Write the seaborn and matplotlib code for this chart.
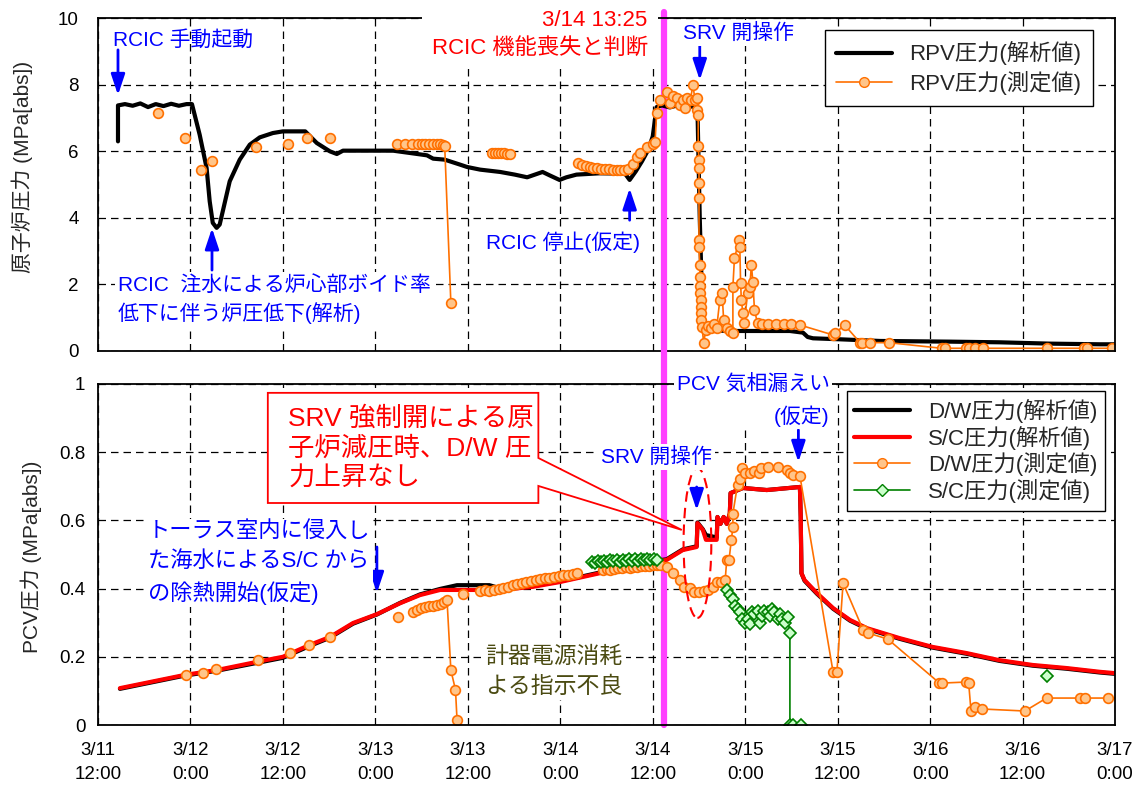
import numpy as np
import pandas as pd
import seaborn as sns
import matplotlib.pyplot as plt
from matplotlib.lines import Line2D
from matplotlib.patches import Ellipse, Polygon

nan = np.nan

# --------------------------------------------------
# data  (time axis = hours counted from 3/11 12:00)
# --------------------------------------------------

tick_hours = list(range(0, 133, 12))
tick_labels = ["3/11\n12:00", "3/12\n0:00", "3/12\n12:00", "3/13\n0:00",
               "3/13\n12:00", "3/14\n0:00", "3/14\n12:00", "3/15\n0:00",
               "3/15\n12:00", "3/16\n0:00", "3/16\n12:00", "3/17\n0:00"]
event_hour = 73.42   # 3/14 13:25

# RPV pressure, analysis
rpv_calc_h = [2.6, 2.6, 3.5, 4.5, 5.5, 6.5, 7.5, 8.5, 9.5, 10.5, 11.5, 12.2,
              13.2, 14.1, 14.5, 14.9, 15.4, 15.8, 16.5, 17.1, 18.4, 19.7, 21.0,
              22.7, 24.0, 26.9, 28.4, 30.1, 31.0, 31.8, 38.3, 40.5, 42.7, 43.5,
              45.0, 47.0, 47.9, 49.6, 52.2, 54.1, 55.7, 56.7, 57.7, 58.6, 59.9,
              60.8, 62.1, 65.1, 68.4, 69.0, 69.8, 70.6, 71.4, 72.0, 72.5, 73.2,
              74.2, 75.2, 76.1, 77.0, 77.8, 78.1, 78.4, 78.6, 79.4, 82.0, 85.9,
              89.8, 91.5, 92.1, 92.8, 96.3, 101.5, 110.5, 117.0, 123.5, 130.0, 132.0]
rpv_calc_p = [6.3, 7.38, 7.42, 7.37, 7.44, 7.33, 7.42, 7.36, 7.43, 7.37, 7.42, 7.42,
              6.5, 5.5, 4.5, 3.85, 3.7, 3.8, 4.5, 5.1, 5.75, 6.2, 6.42,
              6.55, 6.6, 6.6, 6.25, 6.0, 5.92, 6.02, 6.02, 5.95, 5.88, 5.78,
              5.75, 5.6, 5.53, 5.45, 5.38, 5.3, 5.22, 5.3, 5.38, 5.28, 5.14,
              5.22, 5.3, 5.34, 5.33, 5.14, 5.4, 5.7, 6.04, 6.45, 7.33, 7.38,
              7.32, 7.38, 7.3, 7.35, 7.3, 4.0, 1.5, 0.7, 0.62, 0.6, 0.6,
              0.6, 0.55, 0.42, 0.38, 0.35, 0.3, 0.28, 0.26, 0.22, 0.2, 0.2]

# RPV pressure, measured (nan = gap in the record)
rpv_meas_h = [7.8, nan, 11.3, nan, 13.4, nan, 14.8, nan, 20.5, nan, 24.6, nan,
              27.1, nan, 30.1, nan,
              38.8, 39.8, 40.8, 41.5, 42.0, 42.5, 43.0, 43.5, 44.0, 44.4, 44.8,
              45.0, 45.8, nan,
              51.1, 51.5, 51.9, 52.3, 52.7, 53.1, 53.5, nan,
              62.3, 62.8, 63.3, 63.8, 64.3, 64.8, 65.3, 65.8, 66.3, 66.8, 67.3,
              67.8, 68.3, 68.8, 69.4, 69.9, 70.3, 71.2, 72.0, 72.3, 72.5, 72.9,
              73.8, 74.2, 74.6, 75.1, 75.5, 75.9, 76.2, 76.5, 76.9, 77.2, 77.5,
              77.7, 77.8, 77.9, 77.9, 78.0, 78.0, 78.0, 78.0, 78.0, 78.0, 78.1,
              78.1, 78.1, 78.1, 78.2, 78.2, 78.3, 78.3, 78.4, 78.6, 78.9, 79.2,
              79.5, 79.9, 80.3, 80.7, 81.0, 81.2, 81.6, 82.0, 82.4, 82.4, 82.6,
              83.2, 83.3, 83.4, 83.5, 83.7, 83.9, 84.3, 84.6, 84.8, 85.0, 85.2,
              85.6, 86.2, 87.0, 88.0, 89.0, 90.0, 91.1, 95.4, 95.7, 96.9, 98.9,
              99.2, 100.2, 102.6, 109.5, 109.9, 112.7, 113.1, 113.8, 114.8,
              123.2, 128.0, 128.4, 131.6]
rpv_meas_p = [7.14, nan, 6.4, nan, 5.44, nan, 5.72, nan, 6.14, nan, 6.23, nan,
              6.41, nan, 6.41, nan,
              6.22, 6.22, 6.22, 6.22, 6.22, 6.22, 6.22, 6.22, 6.21, 6.21, 6.2,
              6.16, 1.44, nan,
              5.96, 5.95, 5.95, 5.94, 5.94, 5.93, 5.93, nan,
              5.64, 5.58, 5.55, 5.52, 5.5, 5.5, 5.48, 5.47, 5.46, 5.45, 5.45,
              5.44, 5.45, 5.48, 5.62, 5.83, 5.95, 6.14, 6.23, 6.28, 7.14, 7.54,
              7.78, 7.44, 7.65, 7.6, 7.4, 7.55, 7.3, 7.6, 7.55, 7.99, 7.54,
              7.24, 7.6, 7.09, 6.16, 5.74, 5.49, 5.04, 4.59, 3.33, 3.13, 2.58,
              2.22, 1.94, 1.74, 1.53, 1.33, 1.13, 0.93, 0.72, 0.25, 0.63, 0.75,
              0.68, 0.8, 0.7, 1.53, 1.74, 0.93, 0.7, 0.6, 0.53, 1.93, 2.78,
              3.33, 3.13, 2.04, 1.53, 1.13, 0.83, 1.74, 1.93, 2.58, 2.07, 1.23,
              0.83, 0.82, 0.8, 0.8, 0.8, 0.8, 0.78, 0.48, 0.54, 0.78, 0.25,
              0.25, 0.25, 0.25, 0.08, 0.08, 0.08, 0.08, 0.08, 0.08,
              0.08, 0.08, 0.08, 0.08]

# D/W and S/C pressure, analysis
sc_calc_h = [2.85, 11.3, 15.4, 20.6, 24.0, 27.5, 30.1, 33.1, 36.2, 39.2, 41.8,
             44.4, 47.9, 52.2, 56.4, 59.9, 65.1, 69.4, 73.8, 75.9, 77.7, 77.8,
             78.5, 78.9, 80.3, 80.4, 80.8, 81.2, 81.6, 82.0, 82.1, 83.7, 86.8,
             91.1, 91.2, 91.3, 91.7, 93.3, 95.4, 97.6, 99.8, 104.0, 108.3,
             112.7, 117.0, 121.3, 125.7, 130.0, 132.0]
sc_calc_p = [0.108, 0.147, 0.161, 0.185, 0.2, 0.235, 0.258, 0.299, 0.325, 0.357,
             0.381, 0.396, 0.396, 0.396, 0.405, 0.419, 0.445, 0.47, 0.484, 0.513,
             0.522, 0.592, 0.572, 0.543, 0.543, 0.61, 0.59, 0.61, 0.59, 0.62,
             0.68, 0.695, 0.689, 0.698, 0.61, 0.445, 0.425, 0.387, 0.343, 0.308,
             0.284, 0.255, 0.229, 0.211, 0.19, 0.176, 0.167, 0.156, 0.152]
dw_calc_h = [2.85, 11.3, 15.4, 20.6, 24.0, 27.5, 30.1, 33.1, 36.2, 39.2, 41.8,
             44.4, 46.6, 50.8, 52.5, 56.4, 59.9, 65.1, 69.4, 73.8, 75.9, 77.7,
             77.8, 78.5, 78.9, 80.3, 80.4, 80.8, 81.2, 81.6, 82.0, 82.1, 83.7,
             86.8, 91.1, 91.2, 91.3, 91.7, 93.3, 95.4, 97.6, 99.8, 104.0, 108.3,
             112.7, 117.0, 121.3, 125.7, 130.0, 132.0]
dw_calc_p = [0.106, 0.145, 0.159, 0.182, 0.197, 0.232, 0.256, 0.297, 0.324, 0.358,
             0.383, 0.399, 0.41, 0.41, 0.399, 0.407, 0.421, 0.447, 0.472, 0.486,
             0.515, 0.524, 0.594, 0.574, 0.557, 0.55, 0.61, 0.59, 0.61, 0.59,
             0.62, 0.68, 0.695, 0.689, 0.698, 0.61, 0.445, 0.423, 0.385, 0.341,
             0.306, 0.282, 0.253, 0.227, 0.209, 0.188, 0.174, 0.165, 0.154, 0.15]

# D/W pressure, measured
dw_meas_h = [11.4, nan, 13.6, nan, 15.3, nan, 20.8, nan, 24.9, nan, 27.4, nan,
             30.1, nan, 38.9, nan,
             40.9, 41.4, 41.9, 42.4, 42.9, 43.5, 44.0, 44.5, 44.9, 45.3, 45.8,
             46.4, 46.6, nan, 47.4, nan,
             49.6, 50.2, 50.8, 51.4, 52.0, 52.6, 53.2, 53.8, 54.4, 55.0, 55.6,
             56.2, 56.8, 57.4, 58.0, 58.6, 59.2, 59.8, 60.4, 61.0, 61.6, 62.2, nan,
             65.5, 66.0, 66.5, 67.0, 67.5, 68.0, 68.5, 69.0, 69.5, 70.0, 70.5,
             71.0, 71.5, 72.0, 72.5, 73.0, 73.8, 74.6, 75.5, 76.0, 76.8, 77.4,
             78.0, 78.6, 79.2, 79.8, 80.3, 80.9, 81.4, 81.6, 81.9, 82.2, 82.4,
             82.4, 83.0, 83.3, 83.6, 84.0, 84.6, 85.2, 85.8, 86.1, 87.0, 88.3,
             89.4, 89.8, 90.2, 91.1, 95.4, 95.9, 96.7, 99.3, 99.9, 102.5, 109.2,
             109.6, 112.7, 113.0, 113.3, 113.8, 114.7, 120.3, 123.1, 127.5,
             128.1, 131.1, 133.0]
dw_meas_p = [0.147, nan, 0.152, nan, 0.164, nan, 0.19, nan, 0.211, nan, 0.235, nan,
             0.258, nan, 0.317, nan,
             0.331, 0.338, 0.343, 0.346, 0.348, 0.35, 0.352, 0.355, 0.36, 0.367,
             0.161, 0.103, 0.015, nan, 0.384, nan,
             0.392, 0.395, 0.393, 0.397, 0.398, 0.402, 0.405, 0.41, 0.412, 0.415,
             0.42, 0.422, 0.425, 0.428, 0.43, 0.432, 0.435, 0.437, 0.44, 0.44,
             0.443, 0.445, nan,
             0.455, 0.457, 0.455, 0.458, 0.46, 0.46, 0.462, 0.46, 0.463, 0.462,
             0.465, 0.465, 0.466, 0.468, 0.47, 0.47, 0.464, 0.445, 0.425, 0.405,
             0.402, 0.39, 0.39, 0.393, 0.395, 0.405, 0.419, 0.42, 0.425, 0.484,
             0.484, 0.543, 0.58, 0.62, 0.704, 0.72, 0.754, 0.74, 0.74, 0.745,
             0.74, 0.754, 0.757, 0.757, 0.748, 0.74, 0.733, 0.73, 0.156, 0.156,
             0.416, 0.279, 0.27, 0.252, 0.123, 0.123, 0.126, 0.123, 0.041, 0.053,
             0.047, 0.041, 0.079, 0.079, 0.079, 0.079, 0.079]

# S/C pressure, measured
sc_meas_h = [64.1, 64.5, 64.9, 65.3, 65.7, 66.1, 66.5, 66.9, 67.3, 67.7, 68.1,
             68.5, 68.9, 69.3, 69.7, 70.1, 70.5, 70.9, 71.3, 71.7, 72.1, 72.6, nan,
             81.7, 82.0, 82.4, 82.7, 83.0, 83.3, 83.6, 84.0, 84.3, 84.6, 84.9,
             85.2, 85.6, 85.9, 86.2, 86.5, 86.9, 87.2, 87.5, 87.8, 88.2, 88.5,
             88.8, 89.2, 89.5, 89.8, 89.8, 90.2, 91.2, nan, 123.1]
sc_meas_p = [0.478, 0.475, 0.48, 0.477, 0.482, 0.478, 0.483, 0.48, 0.484, 0.479,
             0.485, 0.48, 0.486, 0.481, 0.487, 0.482, 0.488, 0.483, 0.487, 0.484,
             0.488, 0.485, nan,
             0.396, 0.38, 0.37, 0.35, 0.34, 0.33, 0.31, 0.3, 0.31, 0.295, 0.33,
             0.325, 0.335, 0.3, 0.32, 0.335, 0.33, 0.32, 0.34, 0.33, 0.31, 0.325,
             0.31, 0.3, 0.317, 0.27, 0.0, 0.0, 0.0, nan, 0.144]

ORANGE = "#FF7000"
PEACH = "#FFC58A"
GREEN = "#008000"
MINT = "#CCFFCC"
MAGENTA = "#FF40FF"
BLUE = "#0000FF"
RED = "#FF0000"
OLIVE = "#4B4B12"


def to_frame(h, p):
    df = pd.DataFrame({"h": h, "p": p})
    df["seg"] = df["p"].isna().cumsum()
    return df.dropna()


# --------------------------------------------------
# figure
# --------------------------------------------------

sns.set_theme(style="white")
plt.rcParams["font.family"] = ["Liberation Sans", "Noto Sans CJK JP", "DejaVu Sans"]

fig = plt.figure(figsize=(11.39, 7.94), dpi=100)
ax1 = fig.add_axes([0.086, 0.558, 0.893, 0.419])
ax2 = fig.add_axes([0.086, 0.0869, 0.893, 0.4295])

for ax in (ax1, ax2):
    ax.set_xlim(0, 132)
    ax.set_xticks(tick_hours)
    ax.grid(True, color="black", linestyle=(0, (6, 4)), linewidth=0.9)
    for s in ax.spines.values():
        s.set_color("black")
        s.set_linewidth(1.3)
    ax.tick_params(length=0, labelsize=13.5, colors="black")
    ax.axvline(event_hour, ymin=0, ymax=1.1 if ax is ax2 else 1.018,
               color=MAGENTA, lw=4.5, zorder=1.8, clip_on=False)

meas_kw = dict(estimator=None, sort=False, errorbar=None, legend=False)

# ---- top: RPV pressure
sns.lineplot(x=rpv_calc_h, y=rpv_calc_p, color="black", lw=3, ax=ax1,
             **meas_kw)
sns.lineplot(data=to_frame(rpv_meas_h, rpv_meas_p), x="h", y="p", units="seg",
             color=ORANGE, lw=1.2, marker="o", markersize=7,
             markerfacecolor=PEACH, markeredgecolor=ORANGE, markeredgewidth=1.2,
             ax=ax1, **meas_kw)

ax1.set_ylim(0, 10)
ax1.set_yticks(range(0, 11, 2))
ax1.tick_params(axis="x", labelbottom=False)
ax1.tick_params(axis="y", pad=14)
ax1.set_xlabel("")
ax1.set_ylabel("原子炉圧力 (MPa[abs])", fontsize=15)
ax1.yaxis.set_label_coords(-0.064, 0.553)

top_handles = [
    Line2D([], [], color="black", lw=3, label="RPV圧力(解析値)"),
    Line2D([], [], color=ORANGE, lw=1.2, marker="o", ms=7, mfc=PEACH,
           mec=ORANGE, label="RPV圧力(測定値)"),
]
leg = ax1.legend(handles=top_handles, loc="upper right",
                 bbox_to_anchor=(0.978, 0.964), borderaxespad=0, fontsize=16,
                 frameon=True, fancybox=False, framealpha=1, edgecolor="black",
                 handlelength=2.5, labelspacing=0.25, borderpad=0.5)
leg.get_frame().set_linewidth(1.0)

box = dict(facecolor="white", edgecolor="none", pad=2)
arrow = dict(arrowstyle="-|>,head_length=0.9,head_width=0.3", color=BLUE,
             lw=2, mutation_scale=14, shrinkA=0, shrinkB=0)

ax1.text(1.95, 9.34, "RCIC 手動起動", color=BLUE, fontsize=15, va="center")
ax1.annotate("", xy=(2.6, 7.69), xytext=(2.6, 9.05), arrowprops=arrow)

ax1.text(2.6, 1.55, "RCIC  注水による炉心部ボイド率\n低下に伴う炉圧低下(解析)",
         color=BLUE, fontsize=15, va="center", linespacing=1.4, bbox=box,
         zorder=6)
ax1.annotate("", xy=(14.8, 3.69), xytext=(14.8, 2.43), arrowprops=arrow)

ax1.text(71.35, 9.52, "3/14 13:25\nRCIC 機能喪失と判断", color=RED, fontsize=16,
         ha="right", va="center", multialignment="right", linespacing=1.45,
         bbox=dict(facecolor="white", edgecolor="none", pad=7), zorder=6)

ax1.text(75.9, 9.55, "SRV 開操作", color=BLUE, fontsize=15, va="center",
         bbox=box, zorder=6)
ax1.annotate("", xy=(78.1, 8.14), xytext=(78.1, 9.19), arrowprops=arrow)

ax1.text(60.3, 3.27, "RCIC 停止(仮定)", color=BLUE, fontsize=15, ha="center",
         va="center", bbox=box, zorder=6)
ax1.annotate("", xy=(69.0, 4.89), xytext=(69.0, 3.93), arrowprops=arrow)

# ---- bottom: PCV pressure
sns.lineplot(x=dw_calc_h, y=dw_calc_p, color="black", lw=3, ax=ax2, **meas_kw)
sns.lineplot(x=sc_calc_h, y=sc_calc_p, color=RED, lw=3, ax=ax2, **meas_kw)
sns.lineplot(data=to_frame(dw_meas_h, dw_meas_p), x="h", y="p", units="seg",
             color=ORANGE, lw=1.2, marker="o", markersize=7,
             markerfacecolor=PEACH, markeredgecolor=ORANGE, markeredgewidth=1.2,
             ax=ax2, **meas_kw)
sns.lineplot(data=to_frame(sc_meas_h, sc_meas_p), x="h", y="p", units="seg",
             color=GREEN, lw=1.2, marker="D", markersize=6,
             markerfacecolor=MINT, markeredgecolor=GREEN, markeredgewidth=1.2,
             ax=ax2, **meas_kw)

ax2.set_ylim(0, 1)
ax2.set_yticks([0, 0.2, 0.4, 0.6, 0.8, 1.0])
ax2.set_yticklabels(["0", "0.2", "0.4", "0.6", "0.8", "1"])
ax2.set_xticklabels(tick_labels)
for t in ax2.get_xticklabels():
    t.set_linespacing(1.6)
ax2.tick_params(axis="x", pad=12)
ax2.tick_params(axis="y", pad=9)
ax2.set_xlabel("")
ax2.set_ylabel("PCV圧力 (MPa[abs])", fontsize=15)
ax2.yaxis.set_label_coords(-0.055, 0.493)

bot_handles = [
    Line2D([], [], color="black", lw=3, label="D/W圧力(解析値)"),
    Line2D([], [], color=RED, lw=3, label="S/C圧力(解析値)"),
    Line2D([], [], color=ORANGE, lw=1.2, marker="o", ms=7, mfc=PEACH,
           mec=ORANGE, label="D/W圧力(測定値)"),
    Line2D([], [], color=GREEN, lw=1.2, marker="D", ms=6, mfc=MINT,
           mec=GREEN, label="S/C圧力(測定値)"),
]
leg2 = ax2.legend(handles=bot_handles, loc="upper right",
                  bbox_to_anchor=(0.99, 0.979), borderaxespad=0, fontsize=16,
                  frameon=True, fancybox=False, framealpha=1, edgecolor="black",
                  handlelength=2.5, labelspacing=0.12, borderpad=0.35)
leg2.get_frame().set_linewidth(1.0)

# callout box
callout = Polygon([(0.167, 0.974), (0.433, 0.974), (0.433, 0.783), (0.574, 0.572),
                   (0.433, 0.701), (0.433, 0.651), (0.167, 0.651)],
                  closed=True, facecolor="white", edgecolor=RED, lw=1.3,
                  transform=ax2.transAxes, zorder=5)
ax2.add_patch(callout)
ax2.text(0.187, 0.812, "SRV 強制開による原\n子炉減圧時、D/W 圧\n力上昇なし",
         transform=ax2.transAxes, color=RED, fontsize=19, va="center",
         linespacing=1.3, zorder=6)

ax2.add_patch(Ellipse((77.8, 0.534), 3.6, 0.44, fill=False, edgecolor=RED,
                      lw=1.5, linestyle=(0, (5, 3)), zorder=4))

ax2.text(72.5, 0.786, "SRV 開操作", color=BLUE, fontsize=15, ha="center",
         va="center", bbox=box, zorder=6)
ax2.annotate("", xy=(77.7, 0.63), xytext=(77.7, 0.698), arrowprops=arrow)

ax2.text(94.97, 0.953, "PCV 気相漏えい\n(仮定)", color=BLUE, fontsize=15,
         ha="right", va="center", multialignment="right", linespacing=1.65,
         bbox=box, zorder=6)
ax2.annotate("", xy=(90.9, 0.771), xytext=(90.9, 0.865), arrowprops=arrow)

ax2.text(6.49, 0.475, "トーラス室内に侵入し\nた海水によるS/C から\nの除熱開始(仮定)",
         color=BLUE, fontsize=16, va="center", linespacing=1.5, bbox=box,
         zorder=6)
ax2.annotate("", xy=(36.2, 0.387), xytext=(36.2, 0.522), arrowprops=arrow)

ax2.text(50.3, 0.157, "計器電源消耗\nよる指示不良", color=OLIVE, fontsize=16.5,
         va="center", linespacing=1.35, bbox=box, zorder=6)

fig.savefig("out.png", dpi=100)
